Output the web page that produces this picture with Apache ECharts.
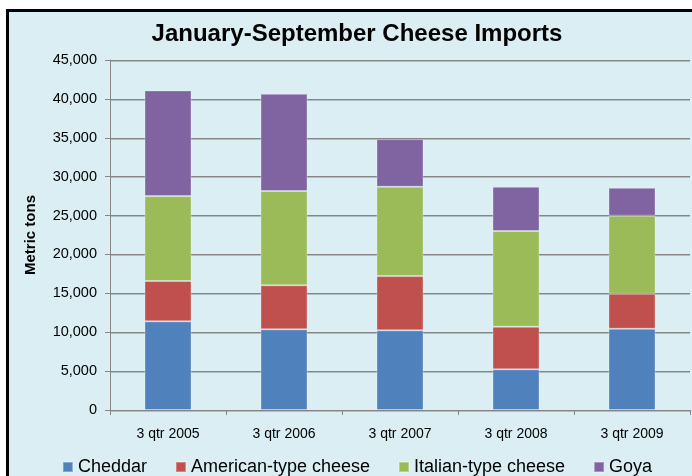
<!DOCTYPE html>
<html>
<head>
<meta charset="utf-8">
<script src="https://cdn.jsdelivr.net/npm/echarts@6/dist/echarts.min.js"></script>
<style>
html, body { margin: 0; padding: 0; background: #ffffff; overflow: hidden; width: 692px; height: 476px; }
#frame { position: absolute; left: 6px; top: 9px; width: 696px; height: 480px; border: 3px solid #000; background: #DAEEF3; }
#chart { width: 696px; height: 480px; }
</style>
</head>
<body>
<div id="frame"><div id="chart"></div></div>
<script>
var categories = ['3 qtr 2005', '3 qtr 2006', '3 qtr 2007', '3 qtr 2008', '3 qtr 2009'];
var cheddar = [11400, 10370, 10240, 5230, 10450];
var american = [5180, 5660, 6980, 5480, 4500];
var italian = [10920, 12120, 11480, 12300, 10030];
var goya = [13590, 12510, 6130, 5690, 3590];
var seriesNames = ['Cheddar', 'American-type cheese', 'Italian-type cheese', 'Goya'];
var yTicks = { min: 0, max: 45000, interval: 5000 };

var colors = ['#4F81BD', '#C0504D', '#9BBB59', '#8064A2'];
var FONT = '"Liberation Sans", Arial, sans-serif';
var chart = echarts.init(document.getElementById('chart'), null, { renderer: 'canvas' });

function mk(name, data, i) {
  return {
    name: name, type: 'bar', stack: 'total', data: data, barWidth: 47,
    itemStyle: { color: colors[i], borderColor: 'rgba(255,255,255,0.3)', borderWidth: 1 },
    emphasis: { disabled: true }
  };
}

chart.setOption({
  animation: false,
  backgroundColor: 'transparent',
  color: colors,
  title: {
    text: 'January-September Cheese Imports',
    left: 'center', top: 5,
    textStyle: { fontFamily: FONT, fontSize: 24, fontWeight: 'bold', color: '#000' }
  },
  legend: {
    left: 'center', top: 441,
    icon: 'rect', itemWidth: 10, itemHeight: 10, itemGap: 28,
    textStyle: { fontFamily: FONT, fontSize: 18, color: '#000', lineHeight: 18 },
    data: seriesNames
  },
  grid: { left: 101, top: 48, width: 580, height: 350, containLabel: false },
  xAxis: {
    type: 'category', data: categories,
    axisLine: { lineStyle: { color: '#868686', width: 1 } },
    axisTick: { show: true, length: 5, alignWithLabel: false, lineStyle: { color: '#868686' } },
    axisLabel: { fontFamily: FONT, fontSize: 14, color: '#000', margin: 17 }
  },
  yAxis: {
    type: 'value', min: yTicks.min, max: yTicks.max, interval: yTicks.interval,
    name: 'Metric tons', nameLocation: 'middle', nameGap: 72, nameRotate: 90,
    nameTextStyle: { fontFamily: FONT, fontSize: 15, fontWeight: 'bold', color: '#000' },
    axisLine: { show: true, lineStyle: { color: '#868686', width: 1 } },
    axisTick: { show: true, length: 5, lineStyle: { color: '#868686' } },
    axisLabel: { fontFamily: FONT, fontSize: 14.5, color: '#000', margin: 13,
      formatter: function (v) { return v.toLocaleString('en-US'); } },
    splitLine: { show: true, lineStyle: { color: '#858585', width: 1, shadowColor: 'rgba(0,0,0,0.2)', shadowOffsetY: 1, shadowBlur: 0 } }
  },
  series: [
    mk(seriesNames[0], cheddar, 0),
    mk(seriesNames[1], american, 1),
    mk(seriesNames[2], italian, 2),
    mk(seriesNames[3], goya, 3)
  ]
});
</script>
</body>
</html>
